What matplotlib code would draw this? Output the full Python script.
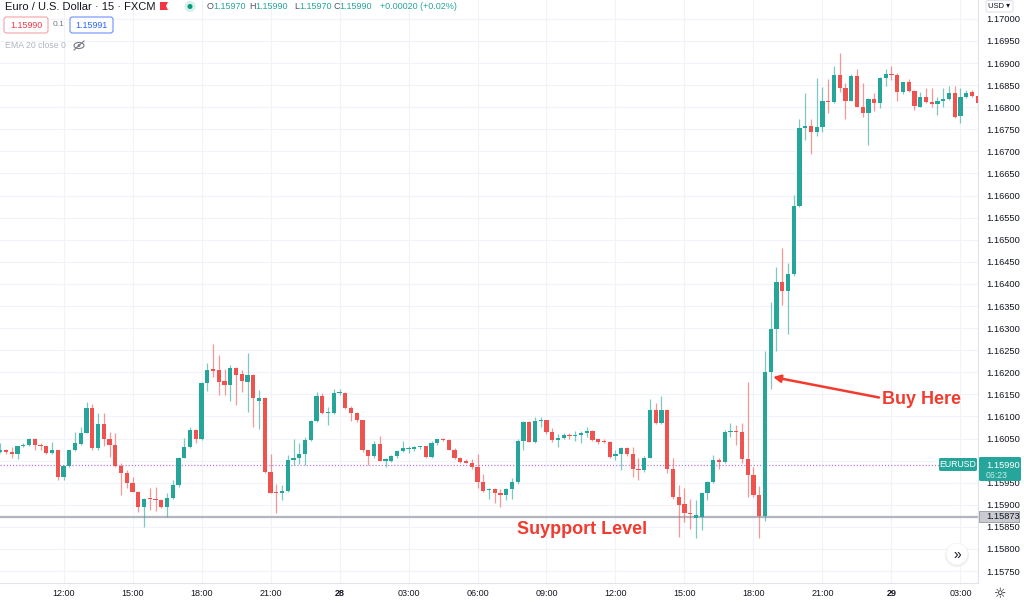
import matplotlib
matplotlib.use("Agg")
import numpy as np
import matplotlib.pyplot as plt
from matplotlib.patches import Rectangle, Circle, FancyBboxPatch, Polygon, Ellipse
from matplotlib.transforms import IdentityTransform

plt.rcParams['font.family'] = ['Liberation Sans', 'DejaVu Sans']

# EURUSD 15 min candles, 27th 09:15 -> 29th 03:30
opens = [1.16020, 1.16024, 1.16020, 1.16015, 1.16032, 1.16035, 1.16050, 1.16035, 1.16033, 1.16018,
         1.16024, 1.15962, 1.15988, 1.16024, 1.16037, 1.16063, 1.16118, 1.16028, 1.16083, 1.16048,
         1.16035, 1.15988, 1.15973, 1.15950, 1.15929, 1.15894, 1.15916, 1.15914, 1.15911, 1.15894,
         1.15916, 1.15945, 1.16007, 1.16030, 1.16069, 1.16048, 1.16176, 1.16207, 1.16205, 1.16180,
         1.16171, 1.16210, 1.16196, 1.16179, 1.16194, 1.16135, 1.16142, 1.15975, 1.15929, 1.15927,
         1.15932, 1.16001, 1.16007, 1.16016, 1.16046, 1.16089, 1.16146, 1.16107, 1.16107, 1.16152,
         1.16154, 1.16118, 1.16107, 1.16092, 1.16024, 1.16010, 1.16037, 1.16000, 1.16000, 1.16010,
         1.16022, 1.16026, 1.16027, 1.16030, 1.16032, 1.16009, 1.16039, 1.16048, 1.16046, 1.16025,
         1.16007, 1.15998, 1.15995, 1.15985, 1.15951, 1.15933, 1.15935, 1.15927, 1.15923, 1.15935,
         1.15951, 1.16045, 1.16088, 1.16043, 1.16090, 1.16092, 1.16065, 1.16046, 1.16052, 1.16057,
         1.16056, 1.16057, 1.16062, 1.16068, 1.16048, 1.16044, 1.16043, 1.16010, 1.16015, 1.16028,
         1.16016, 1.15981, 1.15978, 1.16007, 1.16114, 1.16086, 1.16114, 1.15982, 1.15918, 1.15901,
         1.15882, 1.15869, 1.15873, 1.15927, 1.15952, 1.16001, 1.15996, 1.16064, 1.16067, 1.16065,
         1.16003, 1.15967, 1.15922, 1.15874, 1.16201, 1.16299, 1.16405, 1.16385, 1.16422, 1.16577,
         1.16752, 1.16758, 1.16743, 1.16755, 1.16814, 1.16811, 1.16873, 1.16844, 1.16815, 1.16871,
         1.16801, 1.16786, 1.16818, 1.16809, 1.16867, 1.16875, 1.16872, 1.16835, 1.16858, 1.16837,
         1.16801, 1.16823, 1.16811, 1.16807, 1.16815, 1.16819, 1.16833, 1.16780, 1.16823, 1.16835,
         1.16826]
highs = [1.16039, 1.16027, 1.16030, 1.16033, 1.16039, 1.16052, 1.16052, 1.16040, 1.16034, 1.16043,
         1.16025, 1.15990, 1.16025, 1.16065, 1.16077, 1.16132, 1.16129, 1.16107, 1.16107, 1.16065,
         1.16063, 1.15994, 1.15978, 1.15963, 1.15931, 1.15916, 1.15939, 1.15941, 1.15914, 1.15927,
         1.15957, 1.16009, 1.16052, 1.16077, 1.16071, 1.16178, 1.16222, 1.16264, 1.16239, 1.16207,
         1.16216, 1.16211, 1.16205, 1.16243, 1.16197, 1.16160, 1.16145, 1.16016, 1.15948, 1.15945,
         1.16012, 1.16048, 1.16039, 1.16054, 1.16092, 1.16156, 1.16152, 1.16122, 1.16161, 1.16163,
         1.16155, 1.16123, 1.16111, 1.16093, 1.16025, 1.16045, 1.16056, 1.16007, 1.16012, 1.16024,
         1.16045, 1.16033, 1.16033, 1.16034, 1.16033, 1.16045, 1.16050, 1.16052, 1.16050, 1.16028,
         1.16009, 1.16003, 1.16003, 1.16015, 1.15969, 1.15939, 1.15939, 1.15935, 1.15939, 1.15960,
         1.16048, 1.16090, 1.16090, 1.16099, 1.16098, 1.16093, 1.16073, 1.16060, 1.16063, 1.16063,
         1.16067, 1.16068, 1.16075, 1.16069, 1.16050, 1.16048, 1.16045, 1.16025, 1.16030, 1.16031,
         1.16030, 1.16005, 1.16010, 1.16139, 1.16131, 1.16146, 1.16116, 1.16005, 1.15945, 1.15937,
         1.15914, 1.15911, 1.15929, 1.15954, 1.16012, 1.16007, 1.16069, 1.16086, 1.16080, 1.16086,
         1.16179, 1.15986, 1.15942, 1.16249, 1.16360, 1.16439, 1.16481, 1.16447, 1.16601, 1.16774,
         1.16832, 1.16773, 1.16866, 1.16845, 1.16863, 1.16894, 1.16922, 1.16854, 1.16875, 1.16886,
         1.16856, 1.16820, 1.16832, 1.16869, 1.16886, 1.16894, 1.16877, 1.16858, 1.16863, 1.16839,
         1.16835, 1.16844, 1.16843, 1.16823, 1.16843, 1.16848, 1.16847, 1.16843, 1.16839, 1.16838,
         1.16828]
lows = [1.16018, 1.16016, 1.16007, 1.16003, 1.16031, 1.16033, 1.16025, 1.16024, 1.16016, 1.16015,
        1.15956, 1.15956, 1.15986, 1.16022, 1.16035, 1.16062, 1.16024, 1.16025, 1.16033, 1.16009,
        1.15986, 1.15922, 1.15939, 1.15928, 1.15884, 1.15850, 1.15888, 1.15886, 1.15892, 1.15873,
        1.15914, 1.15941, 1.16005, 1.16028, 1.16039, 1.16046, 1.16158, 1.16190, 1.16148, 1.16148,
        1.16136, 1.16126, 1.16156, 1.16111, 1.16077, 1.16071, 1.15971, 1.15926, 1.15882, 1.15911,
        1.15929, 1.15990, 1.15992, 1.15990, 1.16045, 1.16087, 1.16105, 1.16080, 1.16105, 1.16148,
        1.16116, 1.16090, 1.16088, 1.16020, 1.15990, 1.16007, 1.15999, 1.15986, 1.15997, 1.16007,
        1.16020, 1.16018, 1.16021, 1.16027, 1.16007, 1.16007, 1.16036, 1.16044, 1.16024, 1.16003,
        1.15995, 1.15994, 1.15982, 1.15939, 1.15929, 1.15914, 1.15903, 1.15894, 1.15911, 1.15912,
        1.15948, 1.16025, 1.16041, 1.16040, 1.16077, 1.16060, 1.16043, 1.16031, 1.16048, 1.16050,
        1.16044, 1.16039, 1.16054, 1.16045, 1.16037, 1.16039, 1.16007, 1.16001, 1.15978, 1.16010,
        1.15963, 1.15956, 1.15975, 1.16005, 1.16084, 1.16084, 1.15971, 1.15914, 1.15827, 1.15861,
        1.15846, 1.15824, 1.15843, 1.15911, 1.15950, 1.15982, 1.15994, 1.16054, 1.16035, 1.15994,
        1.15918, 1.15918, 1.15824, 1.15864, 1.16161, 1.16249, 1.16352, 1.16287, 1.16419, 1.16575,
        1.16726, 1.16694, 1.16736, 1.16745, 1.16786, 1.16809, 1.16835, 1.16774, 1.16814, 1.16800,
        1.16777, 1.16715, 1.16792, 1.16798, 1.16847, 1.16862, 1.16815, 1.16829, 1.16835, 1.16794,
        1.16800, 1.16809, 1.16800, 1.16783, 1.16801, 1.16817, 1.16775, 1.16765, 1.16820, 1.16824,
        1.16790]
closes = [1.16025, 1.16019, 1.16016, 1.16033, 1.16036, 1.16050, 1.16035, 1.16033, 1.16018, 1.16024,
          1.15962, 1.15988, 1.16024, 1.16039, 1.16063, 1.16118, 1.16028, 1.16083, 1.16048, 1.16035,
          1.15988, 1.15973, 1.15950, 1.15929, 1.15894, 1.15914, 1.15913, 1.15911, 1.15894, 1.15916,
          1.15945, 1.16007, 1.16030, 1.16069, 1.16048, 1.16176, 1.16205, 1.16202, 1.16179, 1.16171,
          1.16210, 1.16194, 1.16180, 1.16194, 1.16141, 1.16142, 1.15975, 1.15927, 1.15926, 1.15932,
          1.16001, 1.16007, 1.16016, 1.16046, 1.16089, 1.16146, 1.16107, 1.16108, 1.16152, 1.16154,
          1.16118, 1.16107, 1.16092, 1.16024, 1.16010, 1.16037, 1.16000, 1.16003, 1.16010, 1.16022,
          1.16028, 1.16028, 1.16030, 1.16032, 1.16009, 1.16039, 1.16048, 1.16046, 1.16025, 1.16007,
          1.15997, 1.15995, 1.15985, 1.15951, 1.15932, 1.15936, 1.15927, 1.15923, 1.15935, 1.15951,
          1.16045, 1.16088, 1.16043, 1.16090, 1.16093, 1.16065, 1.16046, 1.16052, 1.16057, 1.16055,
          1.16058, 1.16062, 1.16068, 1.16046, 1.16043, 1.16042, 1.16009, 1.16015, 1.16028, 1.16015,
          1.15980, 1.15978, 1.16007, 1.16114, 1.16086, 1.16114, 1.15982, 1.15918, 1.15899, 1.15882,
          1.15879, 1.15877, 1.15927, 1.15952, 1.16001, 1.15997, 1.16064, 1.16067, 1.16065, 1.16003,
          1.15967, 1.15922, 1.15874, 1.16201, 1.16299, 1.16405, 1.16385, 1.16422, 1.16577, 1.16752,
          1.16758, 1.16743, 1.16756, 1.16814, 1.16811, 1.16873, 1.16844, 1.16815, 1.16871, 1.16801,
          1.16786, 1.16818, 1.16809, 1.16867, 1.16875, 1.16872, 1.16835, 1.16857, 1.16837, 1.16803,
          1.16823, 1.16811, 1.16807, 1.16815, 1.16819, 1.16833, 1.16779, 1.16823, 1.16833, 1.16826,
          1.16809]

time_labels = ["12:00", "15:00", "18:00", "21:00", "28", "03:00", "06:00",
               "09:00", "12:00", "15:00", "18:00", "21:00", "29", "03:00"]
time_label_pos = [11, 23, 35, 47, 59, 71, 83, 95, 107, 119, 131, 143, 155, 167]
price_ticks = [1.1575, 1.1580, 1.1585, 1.1590, 1.1595, 1.1600, 1.1605, 1.1610, 1.1615,
               1.1620, 1.1625, 1.1630, 1.1635, 1.1640, 1.1645, 1.1650, 1.1655, 1.1660,
               1.1665, 1.1670, 1.1675, 1.1680, 1.1685, 1.1690, 1.1695, 1.1700]
last_price = 1.15990
support_price = 1.15873

GREEN = '#26a69a'
RED = '#ef5350'
ANNOT = '#f33a2e'
TXT = '#131722'

W, H = 1024, 603
fig = plt.figure(figsize=(W / 100, H / 100), dpi=100)
fig.patch.set_facecolor('white')
ax = fig.add_axes([0, 20 / H, 978 / W, 583 / H])
ax.set_xlim(-0.05, 170.05)
ax.set_ylim(1.157229, 1.170428)

o = np.array(opens); c = np.array(closes)
hi = np.array(highs); lo = np.array(lows)
x = np.arange(len(o))
col = np.where(c >= o, GREEN, RED)

# grid + axes
ax.set_yticks(price_ticks)
ax.set_yticklabels([f"{p:.5f}" for p in price_ticks])
ax.yaxis.tick_right()
ax.tick_params(axis='y', length=0, pad=6, labelsize=6.7, labelcolor=TXT)
ax.set_xticks(time_label_pos)
ax.set_xticklabels(time_labels)
ax.tick_params(axis='x', length=0, pad=4, labelsize=6.5, labelcolor=TXT)
for lab in ax.get_xticklabels():
    if lab.get_text() in ("28", "29"):
        lab.set_fontweight('bold')
ax.grid(True, color='#f0f3fa', linewidth=0.8)
ax.set_axisbelow(True)
for s in ['top', 'left']:
    ax.spines[s].set_visible(False)
ax.spines['right'].set_color('#e0e3eb')
ax.spines['bottom'].set_color('#e0e3eb')
ax.spines['right'].set_linewidth(0.8)
ax.spines['bottom'].set_linewidth(0.8)

# level lines
ax.axhline(last_price, color='#b77fdc', ls=(0, (1, 1.5)), lw=0.9, zorder=1)
ax.axhline(support_price, color='#b2b5be', lw=1.6, zorder=1)

# candles
ax.vlines(x, lo, hi, colors=col, lw=0.9, alpha=0.6, zorder=2)
body_h = np.maximum(np.abs(c - o), 0.000025)
ax.bar(x, body_h, bottom=np.minimum(o, c), width=0.72, color=col, linewidth=0, zorder=3)

# fig pixel helpers (y measured from top)
def fx(px):
    return px / W

def fy(py):
    return 1 - py / H

idt = IdentityTransform()

def add_box(x0, y0, x1, y1, fc, ec='none', lw=0, rounding=0.0):
    if rounding > 0:
        p = FancyBboxPatch((x0, H - y1), x1 - x0, y1 - y0,
                           boxstyle=f"round,pad=0,rounding_size={rounding}",
                           fc=fc, ec=ec, lw=lw, transform=idt)
    else:
        p = Rectangle((x0, H - y1), x1 - x0, y1 - y0, fc=fc, ec=ec, lw=lw, transform=idt)
    fig.patches.append(p)

# price labels on right axis
add_box(939, 458, 977, 471, GREEN, rounding=1.5)
fig.text(fx(958), fy(464.5), "EURUSD", color='white', fontsize=6.3, ha='center', va='center')
add_box(979, 457, 1021, 481, GREEN, rounding=1.5)
fig.text(fx(986), fy(465), "1.15990", color='white', fontsize=6.7, ha='left', va='center')
fig.text(fx(986), fy(475.5), "06:23", color='#c8ece8', fontsize=6.3, ha='left', va='center')
add_box(979, 511, 1019, 522, '#c9cbd1', ec='#9598a1', lw=0.6)
fig.text(fx(986), fy(516.5), "1.15873", color=TXT, fontsize=6.7, ha='left', va='center')

# USD selector
add_box(986, 0.5, 1013, 12, 'white', ec='#e0e3eb', lw=0.8, rounding=2)
fig.text(fx(999.5), fy(6), "USD ▾", color=TXT, fontsize=5.5, ha='center', va='center')

# header
fig.text(fx(5), fy(6.5), "Euro / U.S. Dollar · 15 · FXCM", color=TXT, fontsize=8, ha='left', va='center')
fig.patches.append(Polygon([(160, H - 2), (168, H - 2), (166, H - 6), (168, H - 10), (160, H - 10)],
                           closed=True, fc='#f23645', ec='none', transform=idt))
fig.patches.append(Circle((190, H - 6.5), 5.5, fc='#d5f0ec', ec='none', transform=idt))
fig.patches.append(Circle((190, H - 6.5), 2.5, fc='#089981', ec='none', transform=idt))
ohlc_parts = [(207, "O", '#50535e'), (213, "1.15970", GREEN), (249, "H", '#50535e'),
              (255, "1.15990", GREEN), (294, "L", '#50535e'), (299, "1.15970", GREEN),
              (333, "C", '#50535e'), (339, "1.15990", GREEN), (380, "+0.00020 (+0.02%)", GREEN)]
for px_, s, cc in ohlc_parts:
    fig.text(fx(px_), fy(6.5), s, color=cc, fontsize=6.5, ha='left', va='center')

add_box(4, 17, 48, 33, 'white', ec='#f5a3a8', lw=0.8, rounding=2.5)
fig.text(fx(26), fy(25), "1.15990", color='#f23645', fontsize=6.4, ha='center', va='center')
fig.text(fx(53), fy(25), "0.1", color='#787b86', fontsize=6, ha='left', va='center')
add_box(70, 17, 113, 33, 'white', ec='#6d8eff', lw=0.8, rounding=2.5)
fig.text(fx(91.5), fy(25), "1.15991", color='#2962ff', fontsize=6.4, ha='center', va='center')
fig.text(fx(5), fy(45.5), "EMA 20 close 0", color='#b2b5be', fontsize=6.3, ha='left', va='center')
fig.patches.append(Ellipse((79, H - 45.5), 10, 6, fc='none', ec='#787b86', lw=0.8, transform=idt))
fig.patches.append(Circle((79, H - 45.5), 1.4, fc='#787b86', ec='none', transform=idt))
fig.lines.append(plt.Line2D([74, 84], [H - 50, H - 41], color='#787b86', lw=0.8, transform=idt))

# annotations
fig.text(fx(922), fy(399), "Buy Here", color=ANNOT, fontsize=13, fontweight='bold',
         ha='center', va='center')
fig.text(fx(582), fy(530), "Suypport Level", color=ANNOT, fontsize=13, fontweight='bold',
         ha='center', va='center')
ax.annotate("", xy=(773, H - 377), xytext=(879, H - 397.5), xycoords='figure pixels',
            textcoords='figure pixels',
            arrowprops=dict(arrowstyle='-|>', color=ANNOT, lw=1.8, mutation_scale=11,
                            shrinkA=0, shrinkB=0))

# scroll button and settings icon
fig.patches.append(Circle((957, H - 555), 12, fc='#e6e7eb', ec='none', alpha=0.6, transform=idt))
fig.patches.append(Circle((957, H - 554), 10.5, fc='white', ec='none', transform=idt))
fig.text(fx(957), fy(554.5), "»", color=TXT, fontsize=10, ha='center', va='center')
fig.text(fx(1000), fy(594), "☼", color=TXT, fontsize=10, ha='center', va='center',
         family=['DejaVu Sans'])

fig.savefig("out.png", dpi=100, facecolor='white')
